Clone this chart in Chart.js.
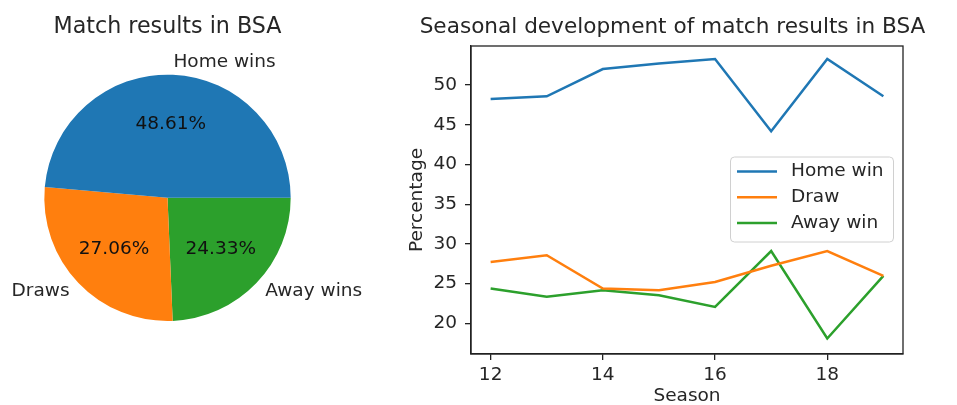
<!DOCTYPE html>
<html>
<head>
<meta charset="utf-8">
<script src="https://cdn.jsdelivr.net/npm/chart.js@4.4.1/dist/chart.umd.min.js"></script>
<style>
  html, body { margin: 0; padding: 0; background: #fff; }
  body { width: 957px; height: 405px; position: relative; overflow: hidden; }
  #pieWrap { position: absolute; left: 0; top: 0; width: 394px; height: 405px; }
  #lineWrap { position: absolute; left: 394px; top: 0; width: 557px; height: 405px; }
</style>
</head>
<body>
<div id="pieWrap"><canvas id="pie"></canvas></div>
<div id="lineWrap"><canvas id="line"></canvas></div>
<script>
// data
const resultLabels = ["Home wins", "Draws", "Away wins"];
const resultShares = [48.61, 27.06, 24.33];
const resultColors = ["#1f77b4", "#ff7f0e", "#2ca02c"];

const seasons = [12, 13, 14, 15, 16, 17, 18, 19];
const homeWin = [48.24, 48.57, 52.0, 52.7, 53.26, 44.18, 53.26, 48.57];
const draw = [27.73, 28.57, 24.39, 24.18, 25.22, 27.25, 29.1, 25.98];
const awayWin = [24.39, 23.34, 24.18, 23.55, 22.08, 29.1, 18.1, 25.98];
const seasonTicks = [12, 14, 16, 18];
const percentTicks = [20, 25, 30, 35, 40, 45, 50];

const FONT = "'DejaVu Sans', sans-serif";
const TEXT = "#262626";
const AXIS = "#222";

Chart.defaults.font.family = FONT;
Chart.defaults.color = TEXT;
Chart.defaults.animation = false;

// ---------- pie ----------
// matplotlib goes counterclockwise from 3 o'clock, chart.js clockwise -> reverse
const pieLabels = resultLabels.slice().reverse();
const pieValues = resultShares.slice().reverse();
const pieColors = resultColors.slice().reverse();

const pieText = {
  id: "pieText",
  afterDatasetsDraw(chart) {
    const ctx = chart.ctx;
    const meta = chart.getDatasetMeta(0);
    ctx.save();
    ctx.font = "18.5px " + FONT;
    ctx.textBaseline = "middle";
    meta.data.forEach((arc, i) => {
      const p = arc.getProps(["x", "y", "startAngle", "endAngle", "outerRadius"], true);
      const mid = (p.startAngle + p.endAngle) / 2;
      const c = Math.cos(mid), s = Math.sin(mid);
      // outer label
      ctx.fillStyle = TEXT;
      ctx.textAlign = c > 0 ? "left" : "right";
      ctx.fillText(chart.data.labels[i], p.x + c * p.outerRadius * 1.1, p.y + s * p.outerRadius * 1.1);
      // percentage
      ctx.fillStyle = "#111";
      ctx.textAlign = "center";
      const v = chart.data.datasets[0].data[i];
      ctx.fillText(v.toFixed(2) + "%", p.x + c * p.outerRadius * 0.6, p.y + s * p.outerRadius * 0.6);
    });
    ctx.restore();
  },
};

new Chart(document.getElementById("pie"), {
  type: "pie",
  data: {
    labels: pieLabels,
    datasets: [{
      data: pieValues,
      backgroundColor: pieColors,
      borderWidth: 0,
    }],
  },
  options: {
    responsive: true,
    maintainAspectRatio: false,
    rotation: 90,
    layout: { padding: { top: 0, bottom: 84, left: 0, right: 59 } },
    plugins: {
      legend: { display: false },
      tooltip: { enabled: false },
      title: {
        display: true,
        text: "Match results in BSA",
        font: { size: 22.2, weight: "normal" },
        color: TEXT,
        padding: { top: 14, bottom: 34 },
      },
    },
  },
  plugins: [pieText],
});

// ---------- line ----------
const lineTitle = "Seasonal development of match results in BSA";

const frameAndLegend = {
  id: "frameAndLegend",
  afterDraw(chart) {
    const ctx = chart.ctx;
    const a = chart.chartArea;
    ctx.save();
    ctx.strokeStyle = AXIS;
    ctx.lineWidth = 1.3;
    ctx.strokeRect(a.left, a.top, a.right - a.left, a.bottom - a.top);

    // title centred on the canvas
    ctx.fillStyle = TEXT;
    ctx.font = "21.6px " + FONT;
    ctx.textAlign = "center";
    ctx.textBaseline = "alphabetic";
    ctx.fillText(lineTitle, chart.width / 2, 33);

    // legend box, center right like matplotlib "best"
    const w = 163, h = 85;
    const bx = a.right - 10 - w;
    const by = (a.top + a.bottom) / 2 - h / 2 - 1;
    ctx.fillStyle = "rgba(255,255,255,0.8)";
    ctx.strokeStyle = "#d0d0d0";
    ctx.lineWidth = 1;
    ctx.beginPath();
    ctx.roundRect(bx + 0.5, by + 0.5, w, h, 4);
    ctx.fill();
    ctx.stroke();

    ctx.font = "18.5px " + FONT;
    ctx.textBaseline = "middle";
    ctx.textAlign = "left";
    chart.data.datasets.forEach((ds, i) => {
      const y = by + 15 + i * 25.8;
      ctx.strokeStyle = ds.borderColor;
      ctx.lineWidth = 2.5;
      ctx.beginPath();
      ctx.moveTo(bx + 7, y);
      ctx.lineTo(bx + 47, y);
      ctx.stroke();
      ctx.fillStyle = TEXT;
      ctx.fillText(ds.label, bx + 61, y);
    });
    ctx.restore();
  },
};

function series(values) {
  return seasons.map((s, i) => ({ x: s, y: values[i] }));
}

const tickFont = { size: 18.5 };

new Chart(document.getElementById("line"), {
  type: "line",
  data: {
    datasets: [
      { label: "Home win", data: series(homeWin), borderColor: resultColors[0] },
      { label: "Draw", data: series(draw), borderColor: resultColors[1] },
      { label: "Away win", data: series(awayWin), borderColor: resultColors[2] },
    ],
  },
  options: {
    responsive: true,
    maintainAspectRatio: false,
    layout: { padding: { left: 0, right: 48, top: 46, bottom: 0 } },
    elements: {
      line: { borderWidth: 2.5, tension: 0 },
      point: { radius: 0 },
    },
    plugins: {
      legend: { display: false },
      tooltip: { enabled: false },
    },
    scales: {
      x: {
        type: "linear",
        min: 11.65,
        max: 19.35,
        afterBuildTicks: (scale) => {
          scale.ticks = seasonTicks.map((v) => ({ value: v }));
        },
        afterFit: (scale) => { scale.height = 51; },
        ticks: { font: tickFont, color: TEXT, padding: 4, maxRotation: 0, callback: (v) => String(v) },
        grid: { drawOnChartArea: false, drawTicks: true, tickLength: 6, color: AXIS, lineWidth: 1.3 },
        border: { display: true, color: AXIS, width: 1.3 },
        title: { display: true, text: "Season", font: { size: 18.5, lineHeight: 1 }, color: TEXT, padding: { top: 0, bottom: 0 } },
      },
      y: {
        min: 16.15,
        max: 54.9,
        afterBuildTicks: (scale) => {
          scale.ticks = percentTicks.map((v) => ({ value: v }));
        },
        afterFit: (scale) => { scale.width = 77; },
        ticks: { font: tickFont, color: TEXT, padding: 8, callback: (v) => String(v) },
        grid: { drawOnChartArea: false, drawTicks: true, tickLength: 6, color: AXIS, lineWidth: 1.3 },
        border: { display: true, color: AXIS, width: 1.3 },
        title: { display: true, text: "Percentage", font: tickFont, color: TEXT, padding: { top: 12, bottom: 0 } },
      },
    },
  },
  plugins: [frameAndLegend],
});
</script>
</body>
</html>
